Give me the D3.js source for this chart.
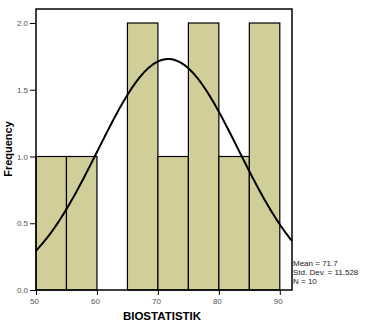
<!DOCTYPE html>
<html>
<head>
<meta charset="utf-8">
<script src="https://cdn.jsdelivr.net/npm/d3@7"></script>
<style>
  html, body { margin: 0; padding: 0; background: #fff; }
  svg { display: block; }
  text { font-family: Arial, "Liberation Sans", sans-serif; }
</style>
</head>
<body>
<svg id="chart" width="371" height="327"></svg>
<script>
// Histogram of BIOSTATISTIK scores (bin width 5)
const binStarts = [50, 55, 60, 65, 70, 75, 80, 85];
const binCounts = [1, 1, 0, 2, 1, 2, 1, 2];
const binWidth = 5;
const xTicks = [50, 60, 70, 80, 90];
const yTicks = [0.0, 0.5, 1.0, 1.5, 2.0];
const statMean = 71.7;
const statSD = 11.528;
const statN = 10;
const statLines = ["Mean = 71.7", "Std. Dev. = 11.528", "N = 10"];

const svg = d3.select("#chart");
const plotLeft = 36, plotRight = 292, plotTop = 9, plotBottom = 290;

const x = d3.scaleLinear().domain([50, 92]).range([plotLeft, plotRight]);
const y = d3.scaleLinear().domain([0, 2.1]).range([plotBottom, plotBottom - 2.1 * 133.5]);

// bars
svg.append("g").selectAll("rect")
  .data(binStarts.map((s, i) => ({ s, c: binCounts[i] })).filter(d => d.c > 0))
  .join("rect")
  .attr("x", d => x(d.s))
  .attr("y", d => y(d.c))
  .attr("width", d => x(d.s + binWidth) - x(d.s))
  .attr("height", d => y(0) - y(d.c))
  .attr("fill", "#d2ce99")
  .attr("stroke", "#000")
  .attr("stroke-width", 1.2);

// fitted normal curve scaled to counts
const pdf = v => Math.exp(-0.5 * ((v - statMean) / statSD) ** 2) / (statSD * Math.sqrt(2 * Math.PI));
const curvePts = d3.range(50, 92.01, 0.25).map(v => [v, statN * binWidth * pdf(v)]);
svg.append("path")
  .datum(curvePts)
  .attr("fill", "none")
  .attr("stroke", "#000")
  .attr("stroke-width", 2)
  .attr("d", d3.line().x(d => x(d[0])).y(d => y(d[1])));

// plot frame
svg.append("rect")
  .attr("x", plotLeft).attr("y", plotTop)
  .attr("width", plotRight - plotLeft).attr("height", plotBottom - plotTop)
  .attr("fill", "none").attr("stroke", "#000").attr("stroke-width", 1.5);

// axes
const yAxis = d3.axisLeft(y).tickValues(yTicks).tickFormat(d3.format(".1f")).tickSize(6).tickPadding(2);
const gy = svg.append("g").attr("transform", `translate(${plotLeft},0)`).call(yAxis);
const xAxis = d3.axisBottom(x).tickValues(xTicks).tickFormat(d3.format("d")).tickSize(5).tickPadding(3);
const gx = svg.append("g").attr("transform", `translate(0,${plotBottom})`).call(xAxis);
[gy, gx].forEach(g => {
  g.select(".domain").remove();
  g.selectAll(".tick line").attr("stroke", "#000").attr("stroke-width", 1);
  g.selectAll(".tick text").attr("fill", "#555").attr("font-size", "8px");
});
gx.selectAll(".tick text").attr("dx", -2);

// axis titles
svg.append("text")
  .attr("transform", "translate(12,149) rotate(-90)")
  .attr("text-anchor", "middle")
  .attr("font-size", "11px").attr("font-weight", "bold")
  .text("Frequency");
svg.append("text")
  .attr("x", 162).attr("y", 320)
  .attr("text-anchor", "middle")
  .attr("font-size", "11.5px").attr("font-weight", "bold")
  .text("BIOSTATISTIK");

// summary statistics
svg.append("g").selectAll("text")
  .data(statLines)
  .join("text")
  .attr("x", 293)
  .attr("y", (d, i) => 266 + i * 9)
  .attr("font-size", "8px")
  .attr("fill", "#222")
  .text(d => d);
</script>
</body>
</html>
